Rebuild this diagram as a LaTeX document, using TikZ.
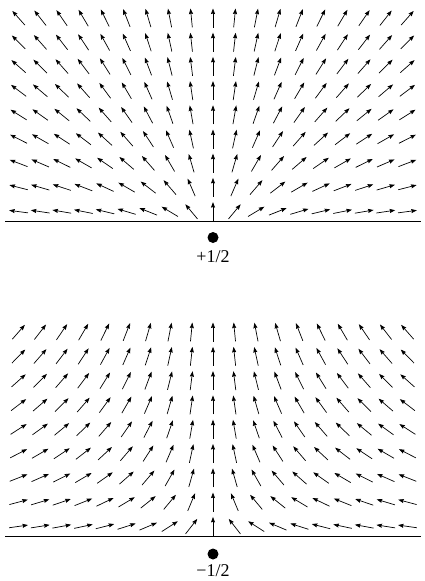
\documentclass[tikz,border=0pt]{standalone}
\usepackage{fontspec}
\setmainfont{Liberation Serif}
\usetikzlibrary{arrows.meta}
\begin{document}
\begin{tikzpicture}[x=1pt,y=-1pt,
  vec/.style={line width=0.7pt,-{Stealth[length=5.5pt,width=4pt,inset=0.6pt]}},
  axis/.style={line width=1pt},
  core/.style={circle,fill=black,inner sep=0pt,minimum size=11pt},
  charge/.style={font=\fontsize{18}{18}\selectfont,inner sep=0pt}]
\useasboundingbox (0,0) rectangle (425,581);
% upper field: +1/2
\foreach \k in {-9,...,9}{
  \foreach \j in {0,...,8}{
    \pgfmathsetmacro\px{213+21.6*\k}
    \pgfmathsetmacro\py{18+24.2*\j}
    \pgfmathsetmacro\ddx{(\px-213)/100}
    \pgfmathsetmacro\ddy{(\py-237.5)/100}
    \pgfmathsetmacro\rr{sqrt(\ddx*\ddx+\ddy*\ddy)}
    \pgfmathsetmacro\ux{9.5*\ddx/\rr}
    \pgfmathsetmacro\uy{9.5*\ddy/\rr}
    \pgfmathsetmacro\ax{\px-\ux}
    \pgfmathsetmacro\ay{\py-\uy}
    \pgfmathsetmacro\bx{\px+\ux}
    \pgfmathsetmacro\by{\py+\uy}
    \draw[vec] (\ax,\ay) -- (\bx,\by);
  }
}
% lower field: -1/2
\foreach \k in {-9,...,9}{
  \foreach \j in {0,...,8}{
    \pgfmathsetmacro\px{213+21.6*\k}
    \pgfmathsetmacro\py{332+24.3*\j}
    \pgfmathsetmacro\ddx{(213-\px)/100}
    \pgfmathsetmacro\ddy{(\py-554)/100}
    \pgfmathsetmacro\rr{sqrt(\ddx*\ddx+\ddy*\ddy)}
    \pgfmathsetmacro\ux{9.5*\ddx/\rr}
    \pgfmathsetmacro\uy{9.5*\ddy/\rr}
    \pgfmathsetmacro\ax{\px-\ux}
    \pgfmathsetmacro\ay{\py-\uy}
    \pgfmathsetmacro\bx{\px+\ux}
    \pgfmathsetmacro\by{\py+\uy}
    \draw[vec] (\ax,\ay) -- (\bx,\by);
  }
}
\coordinate (tl) at (5,221);
\coordinate (tr) at (421,221);
\coordinate (bl) at (5,536);
\coordinate (br) at (421,536);
\draw[axis] (tl) -- (tr);
\draw[axis] (bl) -- (br);
\node[core] (topcore) at (213,237.5) {};
\node[charge] (toplabel) at (213,256.5) {+1/2};
\node[core] (botcore) at (213,554) {};
\node[charge] (botlabel) at (213,571) {−1/2};
\end{tikzpicture}
\end{document}
